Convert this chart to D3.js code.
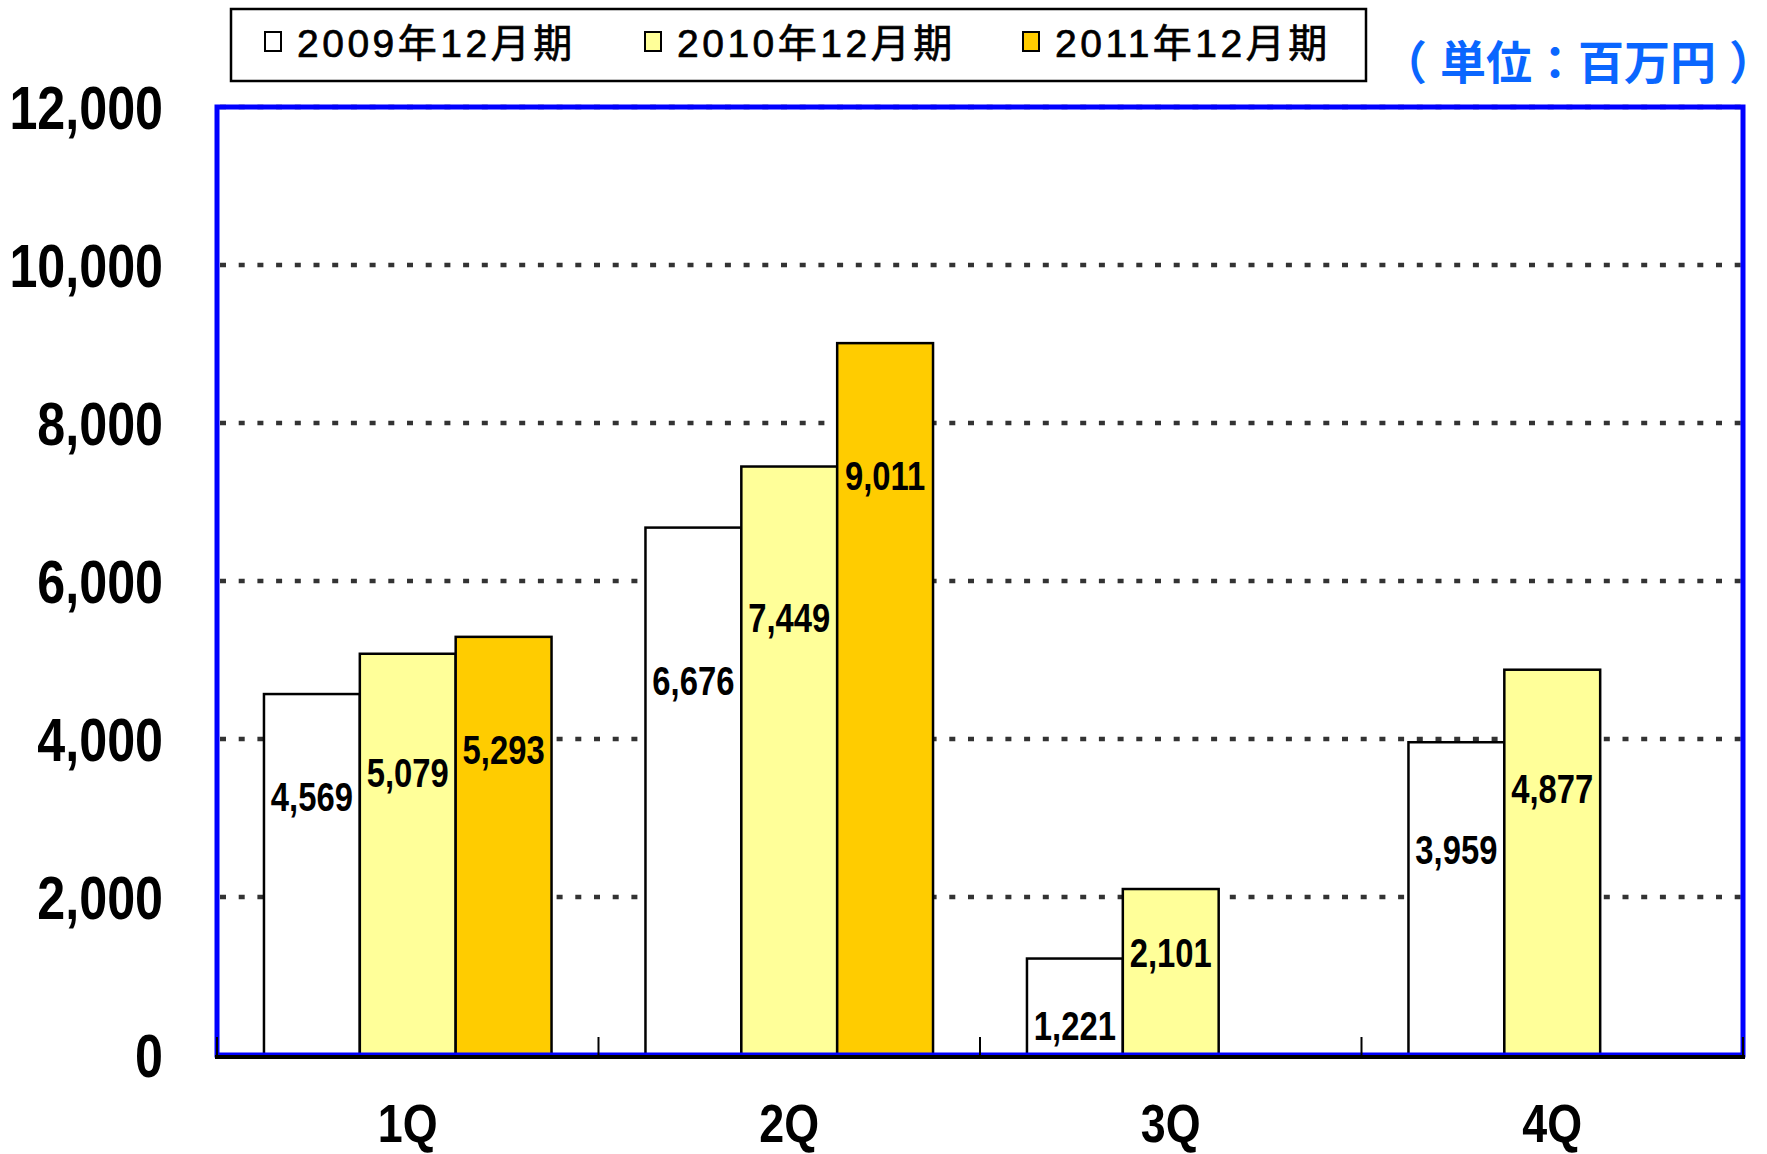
<!DOCTYPE html>
<html>
<head>
<meta charset="utf-8">
<script src="https://cdn.jsdelivr.net/npm/d3@7"></script>
<style>
  body { margin: 0; background: #fff; }
  svg { display: block; }
</style>
</head>
<body>
<div id="chart"></div>
<script>
// quarters and fiscal years
const quarters = ["1Q", "2Q", "3Q", "4Q"];
const series = ["2009年12月期", "2010年12月期", "2011年12月期"];
const seriesColors = ["#FFFFFF", "#FFFF99", "#FFCC00"];

// sales per quarter (百万円), null = not yet reported
const fy2009 = [4569, 6676, 1221, 3959];
const fy2010 = [5079, 7449, 2101, 4877];
const fy2011 = [5293, 9011, null, null];

// where each value label sits, in axis units
const labelAt2009 = [3270, 4740, 370, 2600];
const labelAt2010 = [3570, 5540, 1300, 3370];
const labelAt2011 = [3870, 7330, null, null];

const yTicks = [0, 2000, 4000, 6000, 8000, 10000, 12000];

const W = 1767, H = 1154;
const plot = {left: 217, right: 1743, top: 107, bottom: 1055};

const svg = d3.select("#chart").append("svg")
    .attr("width", W)
    .attr("height", H);

const x0 = d3.scaleBand()
    .domain(quarters)
    .range([plot.left, plot.right]);

const x1 = d3.scaleBand()
    .domain(series)
    .range([0, x0.bandwidth()])
    .paddingOuter(0.49);

const y = d3.scaleLinear()
    .domain([0, 12000])
    .range([plot.bottom, plot.top]);

const fmt = d3.format(",");
const narrow = "'Liberation Sans', Arial, sans-serif";

// gridlines
svg.append("g")
    .selectAll("line")
    .data(yTicks.filter(d => d > 0))
    .enter().append("line")
        .attr("x1", plot.left + 3)
        .attr("x2", plot.right)
        .attr("y1", d => y(d))
        .attr("y2", d => y(d))
        .attr("stroke", "#333")
        .attr("stroke-width", 4.5)
        .attr("stroke-dasharray", "6 12.7");

// bars
const values = [fy2009, fy2010, fy2011];
const labelAt = [labelAt2009, labelAt2010, labelAt2011];
const barData = [];
series.forEach((s, si) => {
    quarters.forEach((q, qi) => {
        if (values[si][qi] != null)
            barData.push({s: s, si: si, q: q, v: values[si][qi], lab: labelAt[si][qi]});
    });
});

svg.append("g")
    .selectAll("rect")
    .data(barData)
    .enter().append("rect")
        .attr("x", d => x0(d.q) + x1(d.s))
        .attr("y", d => y(d.v))
        .attr("width", x1.bandwidth())
        .attr("height", d => y(0) - y(d.v))
        .attr("fill", d => seriesColors[d.si])
        .attr("stroke", "#000")
        .attr("stroke-width", 2.5);

// value labels, condensed bold
svg.append("g")
    .selectAll("text")
    .data(barData)
    .enter().append("text")
        .attr("transform", d => `translate(${x0(d.q) + x1(d.s) + x1.bandwidth() / 2}, ${y(d.lab)}) scale(0.82,1)`)
        .attr("text-anchor", "middle")
        .attr("dy", "0.36em")
        .attr("font-family", narrow)
        .attr("font-weight", "bold")
        .attr("font-size", 40)
        .attr("fill", "#000")
        .text(d => fmt(d.v));

// plot frame
svg.append("rect")
    .attr("x", plot.left)
    .attr("y", plot.top)
    .attr("width", plot.right - plot.left)
    .attr("height", plot.bottom - plot.top)
    .attr("fill", "none")
    .attr("stroke", "#0000FF")
    .attr("stroke-width", 5);

// category axis: baseline and inward ticks at band edges
svg.append("line")
    .attr("x1", plot.left - 2)
    .attr("x2", plot.right + 2)
    .attr("y1", plot.bottom + 2)
    .attr("y2", plot.bottom + 2)
    .attr("stroke", "#000")
    .attr("stroke-width", 4);

const edges = quarters.map(q => x0(q)).concat([plot.right]);
svg.append("g")
    .selectAll("line")
    .data(edges)
    .enter().append("line")
        .attr("x1", d => d)
        .attr("x2", d => d)
        .attr("y1", plot.bottom)
        .attr("y2", plot.bottom - 18)
        .attr("stroke", "#000")
        .attr("stroke-width", 2);

svg.append("g")
    .selectAll("text")
    .data(quarters)
    .enter().append("text")
        .attr("transform", d => `translate(${x0(d) + x0.bandwidth() / 2}, 1142) scale(0.83,1)`)
        .attr("text-anchor", "middle")
        .attr("font-family", narrow)
        .attr("font-weight", "bold")
        .attr("font-size", 54)
        .text(d => d);

// value axis labels
svg.append("g")
    .selectAll("text")
    .data(yTicks)
    .enter().append("text")
        .attr("transform", d => `translate(163, ${y(d)}) scale(0.81,1)`)
        .attr("text-anchor", "end")
        .attr("dy", "0.36em")
        .attr("font-family", narrow)
        .attr("font-weight", "bold")
        .attr("font-size", 62)
        .text(d => fmt(d));

// legend
const legend = svg.append("g");
legend.append("rect")
    .attr("x", 231)
    .attr("y", 9)
    .attr("width", 1135)
    .attr("height", 72)
    .attr("fill", "#fff")
    .attr("stroke", "#000")
    .attr("stroke-width", 2.5);

const legendX = [265, 645, 1023];
const item = legend.selectAll("g.item")
    .data(series)
    .enter().append("g")
        .attr("class", "item")
        .attr("transform", (d, i) => `translate(${legendX[i]}, 0)`);

item.append("rect")
    .attr("x", 0)
    .attr("y", 32)
    .attr("width", 16)
    .attr("height", 19)
    .attr("fill", (d, i) => seriesColors[i])
    .attr("stroke", "#000")
    .attr("stroke-width", 2);

item.append("text")
    .attr("x", 32)
    .attr("y", 57)
    .attr("font-family", "'Liberation Sans', 'Noto Sans CJK JP', sans-serif")
    .attr("font-size", 39)
    .attr("letter-spacing", 3.5)
    .attr("stroke", "#000")
    .attr("stroke-width", 0.7)
    .text(d => d);

// unit note, brackets set apart as in the original
const unitParts = [
    {t: "（", x: 1381, halt: false},
    {t: "単位：百万円", x: 1440, halt: false},
    {t: "）", x: 1729, halt: true}
];
svg.append("g")
    .selectAll("text")
    .data(unitParts)
    .enter().append("text")
        .attr("x", d => d.x)
        .attr("y", 79)
        .attr("font-family", "'Noto Sans CJK JP', sans-serif")
        .attr("font-weight", "bold")
        .attr("font-size", 46)
        .attr("fill", "#0A66FF")
        .style("font-feature-settings", d => d.halt ? "'halt' 1" : "normal")
        .text(d => d.t);
</script>
</body>
</html>
